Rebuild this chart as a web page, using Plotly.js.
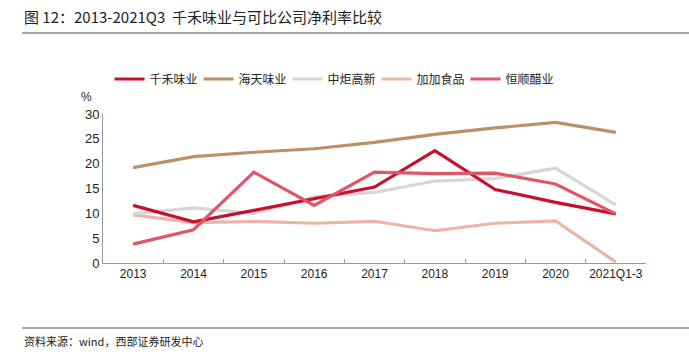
<!DOCTYPE html>
<html><head><meta charset="utf-8">
<script src="https://cdn.plot.ly/plotly-3.0.1.min.js"></script>
<style>html,body{margin:0;padding:0;background:#fff}#c{width:689px;height:354px}</style>
</head><body><div id="c"></div>
<script>
const categories = ["2013","2014","2015","2016","2017","2018","2019","2020","2021Q1-3"];
const qianhe   = [11.6, 8.3, 10.6, 13.0, 15.3, 22.6, 14.8, 12.2, 9.9];
const haitian  = [19.2, 21.4, 22.3, 23.0, 24.3, 25.9, 27.2, 28.3, 26.3];
const zhongju  = [9.9, 11.1, 10.0, 13.3, 14.2, 16.5, 17.0, 19.1, 11.7];
const jiajia   = [9.7, 8.1, 8.4, 8.0, 8.4, 6.5, 8.0, 8.5, 0.2];
const hengshun = [3.8, 6.7, 18.3, 11.6, 18.3, 18.0, 18.1, 15.9, 9.9];
const names = ["千禾味业","海天味业","中炬高新","加加食品","恒顺醋业"];
const colors = ["#C8102E","#B8916B","#D6D6D6","#EFB3A6","#E05567"];
const series = [qianhe, haitian, zhongju, jiajia, hengshun];

const cjk = '"Noto Sans CJK SC", "Liberation Sans", sans-serif';
const order = [3,2,1,0,4];
const traces = order.map(i => ({
  x: categories, y: series[i], name: names[i], type: 'scatter', mode: 'lines',
  line: {color: colors[i], width: 3.2}, legendrank: i+1
}));

const layout = {
  width: 689, height: 354,
  margin: {l: 103, r: 43, t: 114, b: 91},
  paper_bgcolor: '#fff', plot_bgcolor: '#fff',
  font: {family: '"Liberation Sans", Arial, sans-serif', size: 12, color: '#222'},
  showlegend: true,
  legend: {orientation: 'h', x: 0.012, xanchor: 'left', y: 1 + (114-79)/149, yanchor: 'middle',
    font: {family: cjk, size: 12, color: '#222'}, entrywidth: 44, entrywidthmode: 'pixels',
    traceorder: 'normal', itemwidth: 30, bgcolor: 'rgba(0,0,0,0)'},
  xaxis: {type: 'category', range: [-0.5, 8.5], showline: true, linecolor: '#999', linewidth: 1,
    ticks: 'inside', tickson: 'boundaries', ticklen: 4, tickcolor: '#999', tickangle: 0,
    showgrid: false, zeroline: false, tickfont: {size: 12, color: '#222'}},
  yaxis: {range: [0, 30], dtick: 5, showline: true, linecolor: '#999', linewidth: 1,
    showgrid: false, zeroline: false, ticks: '', tickfont: {size: 13, color: '#222'}},
  annotations: [
    {text: '图 12：2013-2021Q3  千禾味业与可比公司净利率比较', xref: 'paper', yref: 'paper',
     x: (22-103)/543, y: 1 + (114-17)/149, xanchor: 'left', yanchor: 'middle', showarrow: false,
     font: {family: cjk, size: 15, color: '#222'}},
    {text: '%', xref: 'paper', yref: 'paper', x: (86-103)/543, y: 1 + (114-97)/149,
     xanchor: 'center', yanchor: 'middle', showarrow: false, font: {size: 12, color: '#222'}},
    {text: '资料来源：wind，西部证券研发中心', xref: 'paper', yref: 'paper',
     x: (22-103)/543, y: -(341-263)/149, xanchor: 'left', yanchor: 'middle', showarrow: false,
     font: {family: cjk, size: 11, color: '#222'}}
  ],
  shapes: [
    {type: 'line', xref: 'paper', yref: 'paper', x0: (22-103)/543, x1: (689-103)/543,
     y0: 1 + (114-33)/149, y1: 1 + (114-33)/149, line: {color: '#888', width: 1.5}},
    {type: 'line', xref: 'paper', yref: 'paper', x0: (22-103)/543, x1: (689-103)/543,
     y0: -(328-263)/149, y1: -(328-263)/149, line: {color: '#888', width: 1.5}}
  ]
};
Plotly.newPlot('c', traces, layout, {displayModeBar: false, staticPlot: true});
</script></body></html>
